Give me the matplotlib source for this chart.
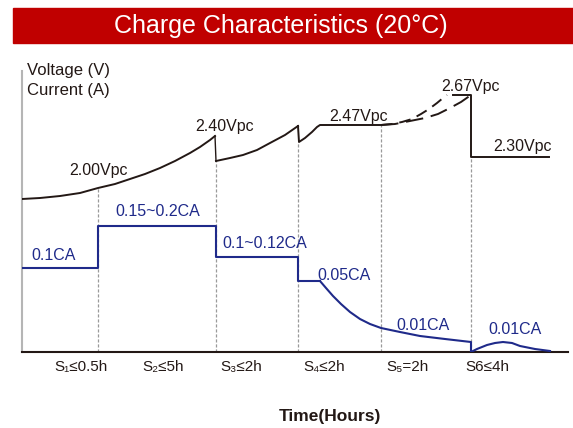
import matplotlib
matplotlib.use("Agg")
import matplotlib.pyplot as plt
from matplotlib.patches import Rectangle

# chart units: x = horizontal position along time axis, y = height above the axis
# stage boundaries (dashed guide lines) and the voltage height where each guide stops
stage_x = [76, 194, 276, 359, 449]
guide_top = [164, 191, 210, 227, 195]

stage_labels = ["S₁≤0.5h", "S₂≤5h", "S₃≤2h", "S₄≤2h", "S₅=2h", "S6≤4h"]
stage_label_x = [59, 141, 219, 302, 385, 465]

# voltage curve pieces
v1_x = [0, 18, 38, 58, 76, 93, 108, 123, 138, 153, 168, 178, 188, 193]
v1_y = [153, 154, 156, 159, 164, 168, 173, 178, 184, 191, 199, 205, 212, 216]
v2_x = [194, 208, 221, 235, 248, 263, 276]
v2_y = [191, 194, 197, 202, 209, 217, 226]
v3_x = [276, 277, 283, 290, 295, 298, 359]
v3_y = [226, 210, 214, 220, 225, 227, 227]
v_up_x = [359, 370, 380, 390, 399, 407, 415, 421, 425]      # dashed, steeper option
v_up_y = [227, 228, 230, 233, 238, 243, 249, 254, 257]
v_lo_x = [359, 373, 388, 403, 416, 428, 439, 449]            # dashed, slower option
v_lo_y = [227, 228, 231, 234, 238, 244, 250, 257]
v4_x = [431, 449, 449, 527]
v4_y = [257, 257, 195, 195]

# current curve
i1_x = [0, 76, 76, 194, 194, 276, 276, 298]
i1_y = [84, 84, 126, 126, 95, 95, 71, 71]
i2_x = [298, 304, 311, 319, 328, 338, 348, 359, 378, 398, 423, 449, 449]
i2_y = [71, 64, 56, 48, 40, 33, 28, 24, 20, 16, 13, 10, 1]
i3_x = [449, 455, 465, 473, 481, 490, 498, 513, 528]
i3_y = [0, 3, 7, 9, 10, 9, 6, 3, 1]

volt_labels = ["2.00Vpc", "2.40Vpc", "2.47Vpc", "2.67Vpc", "2.30Vpc"]
volt_label_pos = [(76, 181), (203, 226), (337, 235), (449, 266), (500, 205)]
curr_labels = ["0.1CA", "0.15~0.2CA", "0.1~0.12CA", "0.05CA", "0.01CA", "0.01CA"]
curr_label_pos = [(32, 96), (136, 140), (243, 108), (322, 77), (401, 27), (493, 22)]

RED = "#c00000"
DARK = "#231815"
BLUE = "#1f2a8a"
GREY = "#9a9a9a"

plt.rcParams["font.family"] = ["Liberation Sans", "DejaVu Sans"]

fig = plt.figure(figsize=(5.73, 4.28), dpi=100)
W, H = 573, 428

# title band
fig.patches.append(Rectangle((13 / W, 1 - 43 / H), 560 / W, 35 / H,
                             transform=fig.transFigure, color=RED, zorder=0))
fig.text(281 / W, 1 - 25.5 / H, "Charge Characteristics (20°C)", color="white",
         fontsize=18, ha="center", va="center")

ax = fig.add_axes([22 / W, (H - 352) / H, 546 / W, 281 / H])
ax.set_xlim(0, 546)
ax.set_ylim(0, 281)

for s in ["top", "right"]:
    ax.spines[s].set_visible(False)
ax.spines["left"].set_color("#b5b5b5")
ax.spines["left"].set_linewidth(1.5)
ax.spines["bottom"].set_color(DARK)
ax.spines["bottom"].set_linewidth(1.5)

# dashed stage guides
for x, top in zip(stage_x, guide_top):
    ax.plot([x, x], [0, top], color=GREY, lw=0.9, ls=(0, (2.5, 1.5)), zorder=1)

# voltage
for xs, ys in [(v1_x, v1_y), (v2_x, v2_y), (v3_x, v3_y), (v4_x, v4_y)]:
    ax.plot(xs, ys, color=DARK, lw=1.4, zorder=3)
ax.plot([193, 194], [216, 191], color=DARK, lw=1.0, zorder=3)
ax.plot(v_up_x, v_up_y, color=DARK, lw=1.4, ls=(0, (6, 3.5)), zorder=3)
ax.plot(v_lo_x, v_lo_y, color=DARK, lw=1.4, ls=(0, (9, 4)), zorder=3)

# current
for xs, ys in [(i1_x, i1_y), (i2_x, i2_y), (i3_x, i3_y)]:
    ax.plot(xs, ys, color=BLUE, lw=1.5, zorder=3)

for txt, (x, y) in zip(volt_labels, volt_label_pos):
    ax.text(x, y, txt, color=DARK, fontsize=11.5, ha="center", va="center")
for txt, (x, y) in zip(curr_labels, curr_label_pos):
    ax.text(x, y, txt, color=BLUE, fontsize=11.5, ha="center", va="center")

ax.text(5, 281, "Voltage (V)", color=DARK, fontsize=12, ha="left", va="center", clip_on=False)
ax.text(5, 262, "Current (A)", color=DARK, fontsize=12, ha="left", va="center", clip_on=False)

ax.set_yticks([])
ax.set_xticks(stage_label_x)
ax.set_xticklabels(stage_labels, fontsize=11, color=DARK)
ax.tick_params(axis="x", length=0, pad=6)

fig.text(330 / W, 1 - 417 / H, "Time(Hours)", color=DARK, fontsize=12.5,
         fontweight="bold", ha="center", va="center")

fig.savefig("out.png", dpi=100)
